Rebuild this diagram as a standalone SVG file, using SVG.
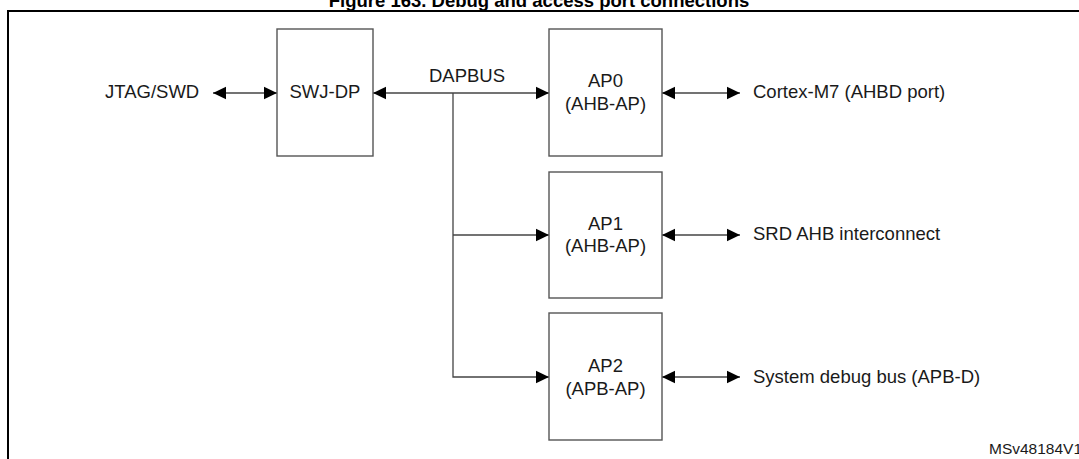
<svg xmlns="http://www.w3.org/2000/svg" width="1079" height="459" viewBox="0 0 1079 459">
<style>
text{font-family:"Liberation Sans",Arial,sans-serif;font-size:18.5px;fill:#1a1a1a}
.t{font-weight:bold;fill:#000}
.box{fill:#fff;stroke:#555;stroke-width:1.4}
.c{fill:none;stroke:#444;stroke-width:1.3}
.m{text-anchor:middle}
.id{font-size:15.5px}
</style>
<defs>
<marker id="a" markerUnits="userSpaceOnUse" markerWidth="14" markerHeight="14" viewBox="0 0 14 14" refX="13" refY="7" orient="auto-start-reverse">
<path d="M0,0.8 L13,7 L0,13.2 Z" fill="#000"/>
</marker>
</defs>
<rect x="0" y="0" width="1079" height="459" fill="#fff"/>
<text class="t m" x="539" y="7">Figure 163. Debug and access port connections</text>
<rect x="8" y="11" width="1080" height="460" fill="none" stroke="#000" stroke-width="2"/>
<g id="connectors">
<line class="c" x1="213" y1="93" x2="277" y2="93" marker-start="url(#a)" marker-end="url(#a)"/>
<line class="c" x1="373" y1="93" x2="549" y2="93" marker-start="url(#a)" marker-end="url(#a)"/>
<polyline class="c" points="453,93 453,377 549,377" marker-end="url(#a)"/>
<line class="c" x1="453" y1="235" x2="549" y2="235" marker-end="url(#a)"/>
<line class="c" x1="662" y1="93" x2="740" y2="93" marker-start="url(#a)" marker-end="url(#a)"/>
<line class="c" x1="662" y1="235" x2="740" y2="235" marker-start="url(#a)" marker-end="url(#a)"/>
<line class="c" x1="662" y1="377" x2="740" y2="377" marker-start="url(#a)" marker-end="url(#a)"/>
<text class="m" x="467" y="82">DAPBUS</text>
</g>
<g id="jtag"><text x="105" y="98">JTAG/SWD</text></g>
<g id="swjdp"><rect class="box" x="277" y="29" width="96" height="127"/><text class="m" x="325" y="98">SWJ-DP</text></g>
<g id="ap0"><rect class="box" x="549" y="29" width="113" height="127"/><text class="m" x="605.5" y="87">AP0</text><text class="m" x="605.5" y="110">(AHB-AP)</text></g>
<g id="ap1"><rect class="box" x="549" y="172" width="113" height="126"/><text class="m" x="605.5" y="230">AP1</text><text class="m" x="605.5" y="252">(AHB-AP)</text></g>
<g id="ap2"><rect class="box" x="549" y="313" width="113" height="127"/><text class="m" x="605.5" y="372">AP2</text><text class="m" x="605.5" y="395">(APB-AP)</text></g>
<g id="cortex"><text x="753" y="98">Cortex-M7 (AHBD port)</text></g>
<g id="srd"><text x="753" y="240">SRD AHB interconnect</text></g>
<g id="sysdbg"><text x="753" y="383">System debug bus (APB-D)</text></g>
<text class="id" x="989" y="454">MSv48184V1</text>
</svg>
